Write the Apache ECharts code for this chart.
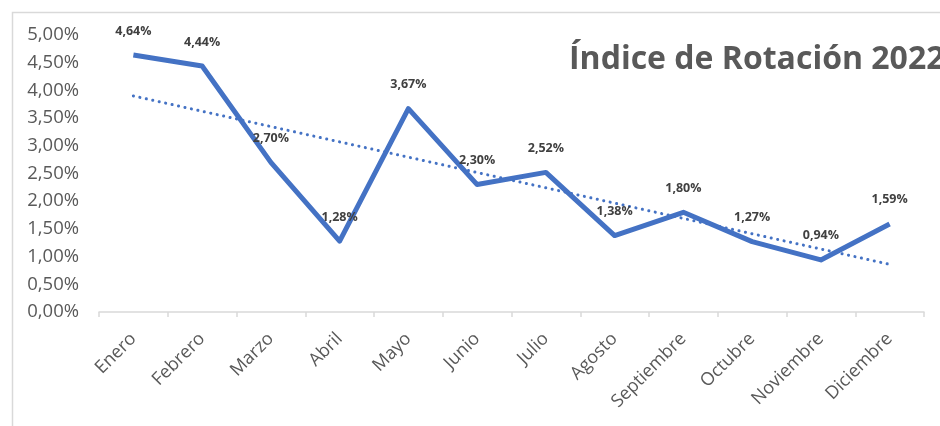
<!DOCTYPE html>
<html>
<head>
<meta charset="utf-8">
<script src="https://cdn.jsdelivr.net/npm/echarts@6/dist/echarts.min.js"></script>
<style>html,body{margin:0;padding:0;background:#fff}#c{width:940px;height:426px}</style>
</head>
<body>
<div id="c"></div>
<script>
var categories = ['Enero','Febrero','Marzo','Abril','Mayo','Junio','Julio','Agosto','Septiembre','Octubre','Noviembre','Diciembre'];
var rotationValues = [4.64, 4.44, 2.70, 1.28, 3.67, 2.30, 2.52, 1.38, 1.80, 1.27, 0.94, 1.59];
// linear trendline endpoints
var trendValues = [3.90, null, null, null, null, null, null, null, null, null, null, 0.86];
var yTicks = [0, 0.5, 1, 1.5, 2, 2.5, 3, 3.5, 4, 4.5, 5];
var titleText = 'Índice de Rotación 2022';

function pct(v) { return v.toFixed(2).replace('.', ',') + '%'; }

var chart = echarts.init(document.getElementById('c'));
chart.setOption({
  animation: false,
  backgroundColor: '#ffffff',
  graphic: [{
    type: 'rect', left: 10, top: 10,
    shape: { width: 1000, height: 1000 },
    style: { fill: 'none', stroke: '#d9d9d9', lineWidth: 1.5 },
    silent: true
  }],
  title: {
    text: titleText, left: 564, top: 39,
    textStyle: { fontFamily: 'Open Sans', fontWeight: 'bold', fontSize: 32, color: '#595959' }
  },
  grid: { left: 99, right: 16, top: 35, bottom: 114, containLabel: false },
  xAxis: {
    type: 'category', data: categories, boundaryGap: true,
    axisLine: { lineStyle: { color: '#d9d9d9', width: 1.5 } },
    axisTick: { show: true, length: 5, lineStyle: { color: '#d9d9d9', width: 1.5 } },
    axisLabel: { rotate: 45, margin: 24, fontFamily: 'Open Sans', fontSize: 18, color: '#595959', interval: 0 }
  },
  yAxis: {
    type: 'value', min: yTicks[0], max: yTicks[yTicks.length - 1], interval: 0.5,
    splitLine: { show: false },
    axisLine: { show: false }, axisTick: { show: false },
    axisLabel: { margin: 20, fontFamily: 'Open Sans', fontSize: 18.5, color: '#595959', formatter: function (v) { return pct(v); } }
  },
  series: [{
    type: 'line', data: rotationValues, symbol: 'circle', symbolSize: 1, showSymbol: true,
    itemStyle: { color: 'rgba(0,0,0,0)' },
    lineStyle: { color: '#4472C4', width: 5, join: 'round' },
    label: {
      show: true, position: 'top', distance: 17,
      fontFamily: 'Open Sans', fontWeight: 'bold', fontSize: 12.5, color: '#404040',
      formatter: function (p) { return pct(p.value); }
    },
    labelLayout: { hideOverlap: false },
    z: 3
  }, {
    type: 'line', data: trendValues, symbol: 'none', connectNulls: true,
    lineStyle: { color: '#4472C4', width: 3, type: [0.1, 6.5], cap: 'round' },
    z: 2
  }]
});
</script>
</body>
</html>
